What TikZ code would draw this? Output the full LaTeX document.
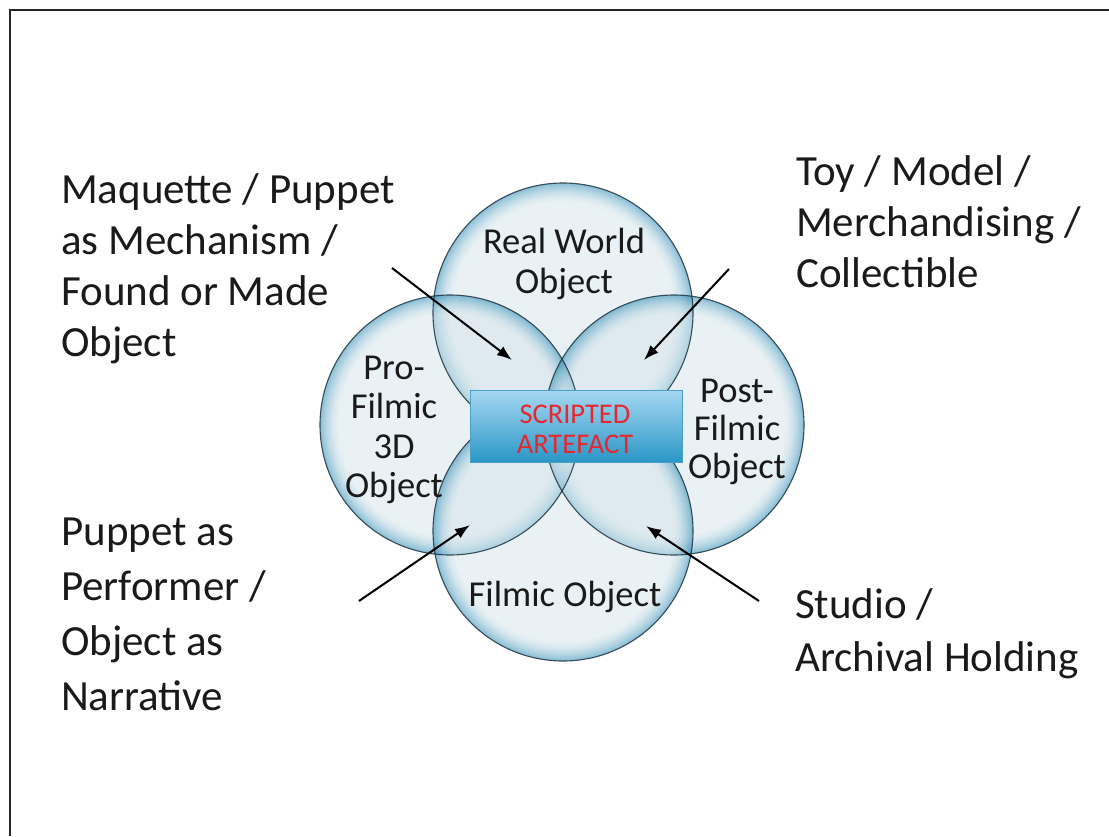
\documentclass[tikz,border=0pt]{standalone}
\usepackage{fontspec}
\setmainfont{Carlito}
\usetikzlibrary{arrows.meta}
\definecolor{bubin}{HTML}{D5E5EB}
\definecolor{bubrim}{HTML}{167FAE}
\definecolor{bubline}{HTML}{1E3440}
\definecolor{recttop}{HTML}{A6D8F2}
\definecolor{rectbot}{HTML}{2A96C6}
\definecolor{rectline}{HTML}{4A9FC6}
\definecolor{scriptred}{HTML}{E8262E}
\definecolor{txt}{HTML}{1A1A1A}
\tikzset{
  bubedge/.style={draw=bubline, line width=1.1pt, draw opacity=0.85},
  outer/.style={font=\fontsize{43}{51}\selectfont, text=txt, align=left, inner sep=0pt},
  inlab/.style={font=\fontsize{36.5}{40}\selectfont, text=txt, align=center, inner sep=0pt},
  arr/.style={line width=2pt, -{Latex[length=15pt,width=11pt]}, draw=black},
  scriptbox/.style={draw=rectline, line width=0.8pt, top color=recttop, bottom color=rectbot, minimum width=212pt, minimum height=72pt, inner sep=0pt}
}
\begin{document}
\begin{tikzpicture}[x=1pt,y=-1pt]
\useasboundingbox (0,0) rectangle (1109,836);
\fill[white] (0,0) rectangle (1109,836);
\draw[line width=2.2pt, draw=black!85] (1109,10) -- (10,10) -- (10,836);
% circles
\coordinate (ctop) at (563,313);
\coordinate (cleft) at (450,425);
\coordinate (cright) at (674,425);
\coordinate (cbot) at (563,531);
\foreach \c in {ctop,cleft,cright,cbot}{
  \begin{scope}[transparency group, opacity=0.5]
    \foreach \i in {0,...,20}{
      \pgfmathsetmacro\p{100*((20-\i)/20)^1.7}
      \fill[bubrim!\p!bubin] (\c) circle[radius=130-\i];
    }
  \end{scope}
}
\foreach \c in {ctop,cleft,cright,cbot}{
  \draw[bubedge] (\c) circle[radius=130];
}
% labels in circles (base anchor = last line)
\node[inlab, anchor=base] (rw) at (564,293) {Real World\\Object};
\node[inlab, anchor=base, font=\fontsize{36.5}{39.5}\selectfont] (pro) at (394,497.5) {Pro-\\Filmic\\3D\\Object};
\node[inlab, anchor=base, font=\fontsize{36.5}{38}\selectfont] (post) at (737,478) {Post-\\Filmic\\Object};
\node[inlab, anchor=base] (fo) at (565,606) {Filmic Object};
% scripted artefact
\node[scriptbox] (sa) at (576,426) {};
\node[font=\fontsize{28.5}{30}\selectfont, text=scriptred, align=center, inner sep=0pt, anchor=base] (satxt) at (575,453) {SCRIPTED\\ARTEFACT};
% outer labels
\node[outer, anchor=base west] (tl) at (61,356) {Maquette / Puppet\\as Mechanism /\\Found or Made\\Object};
\node[outer, anchor=base west] (tr) at (796,287) {Toy / Model /\\Merchandising /\\Collectible};
\node[outer, anchor=base west, font=\fontsize{43}{55}\selectfont] (bl) at (61,710) {Puppet as\\Performer /\\Object as\\Narrative};
\node[outer, anchor=base west, font=\fontsize{43}{53.5}\selectfont] (br) at (795,671.5) {Studio /\\Archival Holding};
% arrows
\coordinate (a1s) at (392,268); \coordinate (a1e) at (512,360);
\coordinate (a2s) at (729,269); \coordinate (a2e) at (644,360);
\coordinate (a3s) at (359,601); \coordinate (a3e) at (470,525);
\coordinate (a4s) at (759,601); \coordinate (a4e) at (646,526);
\draw[arr] (a1s) -- (a1e);
\draw[arr] (a2s) -- (a2e);
\draw[arr] (a3s) -- (a3e);
\draw[arr] (a4s) -- (a4e);
\end{tikzpicture}
\end{document}
